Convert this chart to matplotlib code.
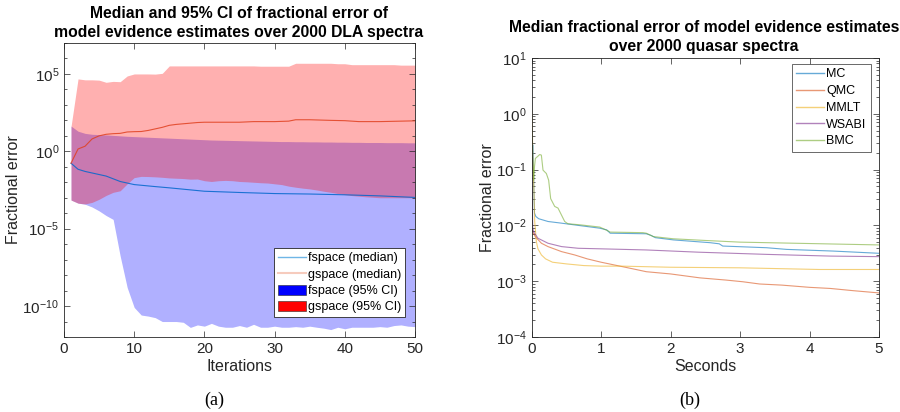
import numpy as np
import matplotlib
matplotlib.use("Agg")
import matplotlib.pyplot as plt
from matplotlib.lines import Line2D
from matplotlib.patches import Patch

plt.rcParams['font.family'] = ['Liberation Sans', 'DejaVu Sans']
plt.rcParams['mathtext.default'] = 'regular'

# ---------------- data: panel (a) (log10 of fractional error) ----------------
iterations = list(range(1, 51))
gspace_hi_log10 = [1.6, 4.68, 4.62, 4.62, 4.6, 4.46, 4.52, 4.5, 4.87, 5.0,
                   5.0, 5.0, 4.99, 5.04, 5.52, 5.52, 5.52, 5.52, 5.52, 5.52,
                   5.52, 5.52, 5.52, 5.52, 5.52, 5.52, 5.52, 5.5, 5.5, 5.5,
                   5.5, 5.5, 5.69, 5.69, 5.69, 5.69, 5.69, 5.69, 5.66, 5.66,
                   5.6, 5.6, 5.6, 5.6, 5.6, 5.6, 5.6, 5.57, 5.57, 5.57]
gspace_lo_log10 = [-3.15, -3.35, -3.4, -3.3, -3.1, -2.85, -2.65, -2.55, -2.1, -1.7,
                   -1.62, -1.63, -1.65, -1.68, -1.72, -1.74, -1.76, -1.8, -1.79, -1.9,
                   -1.95, -1.9, -1.88, -1.9, -1.95, -1.97, -2.0, -2.03, -2.05, -2.1,
                   -2.15, -2.25, -2.32, -2.38, -2.43, -2.5, -2.58, -2.65, -2.73, -2.8,
                   -2.86, -2.9, -2.94, -2.97, -3.0, -3.0, -3.0, -3.0, -3.0, -3.0]
fspace_hi_log10 = [1.63, 1.3, 1.16, 1.1, 1.08, 1.06, 1.03, 1.0, 0.97, 0.95,
                   0.93, 0.91, 0.89, 0.87, 0.85, 0.83, 0.81, 0.79, 0.77, 0.75,
                   0.73, 0.72, 0.71, 0.7, 0.69, 0.68, 0.67, 0.66, 0.65, 0.64,
                   0.63, 0.63, 0.62, 0.62, 0.61, 0.61, 0.6, 0.6, 0.59, 0.59,
                   0.58, 0.58, 0.57, 0.57, 0.57, 0.56, 0.56, 0.56, 0.55, 0.55]
fspace_lo_log10 = [-3.15, -3.35, -3.42, -3.6, -3.85, -4.15, -4.4, -6.76, -8.8, -10.09,
                   -10.58, -10.65, -10.75, -11.0, -11.0, -11.0, -11.05, -11.38, -11.22, -11.3,
                   -11.12, -11.3, -11.37, -11.37, -11.26, -11.37, -11.18, -11.37, -11.37, -11.3,
                   -11.37, -11.37, -11.33, -11.37, -11.3, -11.37, -11.43, -11.52, -11.37, -11.47,
                   -11.37, -11.37, -11.37, -11.37, -11.33, -11.37, -11.26, -11.22, -11.3, -11.33]
fmed_iter = [1, 2, 3, 4, 5, 6, 8, 10, 13, 15, 20, 25, 30, 35, 40, 45, 50]
fspace_med_log10 = [-0.77, -1.16, -1.3, -1.4, -1.5, -1.6, -1.95, -2.15, -2.28, -2.36,
                    -2.58, -2.66, -2.73, -2.76, -2.81, -2.88, -2.98]
gmed_iter = [1, 2, 3, 4, 5, 6, 7, 8, 9, 10, 11, 12, 13, 14, 15, 16, 17, 18, 19, 20,
             25, 27, 30, 32, 33, 35, 38, 40, 42, 45, 48, 50]
gspace_med_log10 = [-0.77, 0.15, 0.33, 0.8, 1.0, 1.1, 1.14, 1.16, 1.25, 1.27, 1.28,
                    1.35, 1.45, 1.55, 1.68, 1.74, 1.78, 1.82, 1.86, 1.88, 1.88, 1.92,
                    1.92, 1.95, 2.04, 2.04, 2.0, 1.98, 1.92, 1.92, 1.95, 1.97]

# ---------------- data: panel (b) ----------------
mc_t = [0, 0.02, 0.03, 0.04, 0.06, 0.1, 0.235, 0.43, 0.67, 0.98, 1.08, 1.13, 1.65,
        1.72, 1.78, 2.04, 2.57, 2.7, 2.75, 3.38, 3.67, 4.34, 5.0]
mc_log10 = [-0.6, -0.56, -1.3, -1.78, -1.84, -1.88, -1.93, -1.96, -2.0, -2.05, -2.08,
            -2.14, -2.15, -2.18, -2.22, -2.26, -2.31, -2.33, -2.37, -2.40, -2.43, -2.46, -2.50]
qmc_t = [0, 0.05, 0.14, 0.235, 0.43, 0.62, 0.8, 1.0, 1.27, 1.5, 1.65, 2.0, 2.42, 2.8,
         3.04, 3.28, 3.6, 4.0, 4.3, 4.63, 5.0]
qmc_log10 = [-2.08, -2.2, -2.32, -2.38, -2.47, -2.53, -2.6, -2.66, -2.73, -2.79, -2.83,
             -2.87, -2.94, -2.98, -3.01, -3.05, -3.07, -3.11, -3.13, -3.17, -3.21]
mmlt_t = [0, 0.005, 0.02, 0.034, 0.043, 0.067, 0.09, 0.14, 0.2, 0.3, 0.5, 0.75, 1.0,
          1.3, 2.0, 3.0, 4.14, 5.0]
mmlt_log10 = [0.05, -0.1, -0.9, -1.45, -1.93, -2.29, -2.42, -2.53, -2.6, -2.66, -2.69,
              -2.72, -2.73, -2.73, -2.75, -2.76, -2.79, -2.79]
wsabi_t = [0, 0.005, 0.015, 0.03, 0.09, 0.235, 0.43, 0.67, 1.0, 1.65, 2.4, 3.4, 4.3, 5.0]
wsabi_log10 = [-0.77, -1.2, -2.05, -2.12, -2.23, -2.32, -2.38, -2.41, -2.42, -2.44,
               -2.48, -2.52, -2.55, -2.56]
bmc_t = [0, 0.012, 0.03, 0.04, 0.053, 0.09, 0.115, 0.139, 0.163, 0.211, 0.244, 0.273,
         0.331, 0.379, 0.427, 0.475, 0.52, 0.7, 0.98, 1.1, 1.13, 1.6, 1.65, 1.75, 2.04,
         2.5, 3.0, 3.8, 4.6, 5.0]
bmc_log10 = [-0.29, -0.8, -1.19, -0.95, -0.8, -0.76, -0.73, -0.74, -1.01, -1.07, -1.19,
             -1.52, -1.66, -1.69, -1.81, -1.93, -1.97, -1.99, -2.03, -2.1, -2.12, -2.13,
             -2.14, -2.2, -2.24, -2.27, -2.30, -2.32, -2.34, -2.35]

series_b = [("MC", mc_t, mc_log10, (0.0, 0.447, 0.741)),
            ("QMC", qmc_t, qmc_log10, (0.85, 0.325, 0.098)),
            ("MMLT", mmlt_t, mmlt_log10, (0.929, 0.694, 0.125)),
            ("WSABI", wsabi_t, wsabi_log10, (0.494, 0.184, 0.556)),
            ("BMC", bmc_t, bmc_log10, (0.466, 0.674, 0.188))]

a_yticks = [1e-10, 1e-5, 1e0, 1e5]
b_yticks = [1e-4, 1e-3, 1e-2, 1e-1, 1e0, 1e1]
title_a = ['Median and 95% CI of fractional error of',
           'model evidence estimates over 2000 DLA spectra']
title_b = ['Median fractional error of model evidence estimates',
           'over 2000 quasar spectra']

def p(v):
    return np.power(10.0, np.asarray(v, dtype=float))

W, H = 900, 412
fig = plt.figure(figsize=(9, 4.12), dpi=100)
TXT = '#262626'
TICK_FS = 11
LABEL_FS = 11.5
TITLE_FS = 11.3

def style(ax):
    for s in ax.spines.values():
        s.set_color(TXT)
        s.set_linewidth(0.6)
    ax.tick_params(which='both', direction='in', top=True, right=True,
                   colors=TXT, labelsize=TICK_FS, width=0.5)
    ax.tick_params(which='major', length=4)
    ax.tick_params(which='minor', length=2)

# ---------------- panel (a) ----------------
axa = fig.add_axes([64 / W, 1 - 337 / H, 351 / W, 294 / H])
axa.fill_between(iterations, p(fspace_lo_log10), p(fspace_hi_log10),
                 color=(0, 0, 1), alpha=0.31, linewidth=0)
axa.fill_between(iterations, p(gspace_lo_log10), p(gspace_hi_log10),
                 color=(1, 0, 0), alpha=0.31, linewidth=0)
axa.plot(fmed_iter, p(fspace_med_log10), color=(0.0, 0.40, 0.80), lw=0.8, alpha=0.85)
axa.plot(gmed_iter, p(gspace_med_log10), color=(0.88, 0.25, 0.12), lw=0.8, alpha=0.85)
axa.set_yscale('log')
axa.set_xlim(0, 50)
axa.set_ylim(1e-12, 1e7)
axa.set_xticks([0, 10, 20, 30, 40, 50])
axa.set_yticks(a_yticks)
axa.set_yticks([10.0 ** k for k in range(-12, 8)], minor=True)
axa.set_yticklabels([r'$10^{-10}$', r'$10^{-5}$', r'$10^{0}$', r'$10^{5}$'], minor=False)
axa.yaxis.set_minor_formatter(matplotlib.ticker.NullFormatter())
style(axa)
axa.set_xlabel('Iterations', fontsize=LABEL_FS, color=TXT, labelpad=2)
axa.set_ylabel('Fractional error', fontsize=LABEL_FS, color=TXT, labelpad=1)
for txt, yc in zip(title_a, [14, 33]):
    fig.text(239 / W, 1 - yc / H, txt, ha='center', va='center',
             fontsize=TITLE_FS, fontweight='bold')
handles_a = [Line2D([], [], color='#6fb6e6', lw=1.0),
             Line2D([], [], color='#f6cbbd', lw=1.5),
             Patch(facecolor=(0, 0, 1), edgecolor=TXT, linewidth=0.4),
             Patch(facecolor=(1, 0, 0), edgecolor=TXT, linewidth=0.4)]
leg_a = axa.legend(handles_a, ['fspace (median)', 'gspace (median)',
                               'fspace (95% CI)', 'gspace (95% CI)'],
                   loc='lower right', bbox_to_anchor=(405 / W, 1 - 317 / H),
                   bbox_transform=fig.transFigure, fontsize=9, frameon=True,
                   fancybox=False, handlelength=2.2, handleheight=0.9,
                   handletextpad=0.2, labelspacing=0.3, borderpad=0.3,
                   borderaxespad=0)
leg_a.get_frame().set_edgecolor(TXT)
leg_a.get_frame().set_linewidth(0.6)
leg_a.get_frame().set_alpha(1)

# ---------------- panel (b) ----------------
axb = fig.add_axes([531.7 / W, 1 - 337 / H, 347.3 / W, 279 / H])
for name, t, v, c in series_b:
    axb.plot(t, p(v), color=c, lw=0.8, alpha=0.6, label=name)
axb.set_yscale('log')
axb.set_xlim(0, 5)
axb.set_ylim(1e-4, 1e1)
axb.set_xticks([0, 1, 2, 3, 4, 5])
axb.set_yticks(b_yticks)
axb.yaxis.set_minor_locator(matplotlib.ticker.LogLocator(base=10, subs=np.arange(2, 10), numticks=20))
axb.yaxis.set_minor_formatter(matplotlib.ticker.NullFormatter())
style(axb)
axb.set_xlabel('Seconds', fontsize=LABEL_FS, color=TXT, labelpad=2)
axb.set_ylabel('Fractional error', fontsize=LABEL_FS, color=TXT, labelpad=1)
for txt, yc in zip(title_b, [28, 47]):
    fig.text(704 / W, 1 - yc / H, txt, ha='center', va='center',
             fontsize=TITLE_FS, fontweight='bold')
leg_b = axb.legend(loc='upper right', bbox_to_anchor=(870.7 / W, 1 - 64 / H),
                   bbox_transform=fig.transFigure, fontsize=9, frameon=True,
                   fancybox=False, handlelength=2.2, handletextpad=0.2,
                   labelspacing=0.38, borderpad=0.35, borderaxespad=0)
leg_b.get_frame().set_edgecolor(TXT)
leg_b.get_frame().set_linewidth(0.6)
for ln in leg_b.get_lines():
    ln.set_linewidth(1.0)

fig.text(214 / W, 1 - 400 / H, '(a)', ha='center', va='center', fontsize=13,
         family='Liberation Serif')
fig.text(690 / W, 1 - 400 / H, '(b)', ha='center', va='center', fontsize=13,
         family='Liberation Serif')

fig.savefig('out.png', dpi=100)
